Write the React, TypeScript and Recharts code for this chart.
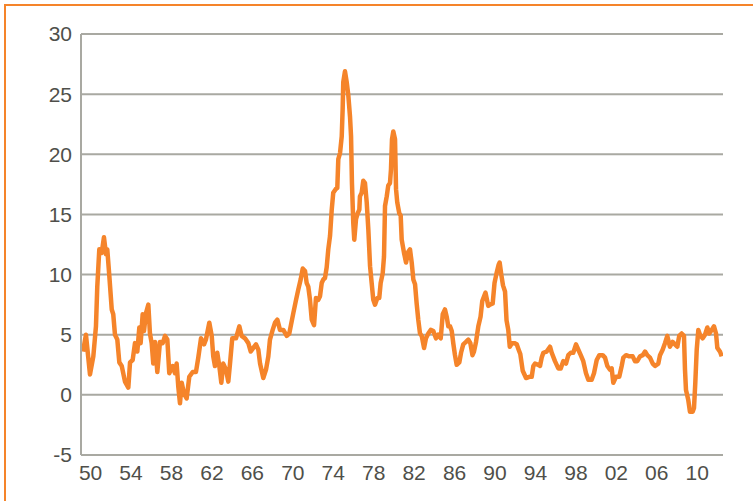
import { LineChart, Line, XAxis, YAxis, CartesianGrid } from "recharts";

// decimal year of each reading
const years = [
  1949.25, 1949.54, 1949.94, 1950.27, 1950.53, 1950.66, 1950.86, 1951.1, 1951.32, 1951.52,
  1951.65, 1951.85, 1952.09, 1952.24, 1952.41, 1952.64, 1952.84, 1953.08, 1953.4, 1953.73,
  1953.9, 1954.16, 1954.39, 1954.62, 1954.82, 1954.95, 1955.15, 1955.28, 1955.48, 1955.71,
  1955.87, 1956.04, 1956.2, 1956.37, 1956.6, 1956.86, 1957.13, 1957.36, 1957.59, 1957.78,
  1958.12, 1958.35, 1958.51, 1958.67, 1958.84, 1959.01, 1959.24, 1959.5, 1959.76, 1960.1,
  1960.42, 1960.65, 1960.92, 1961.22, 1961.41, 1961.74, 1961.98, 1962.13, 1962.3, 1962.53,
  1962.73, 1962.93, 1963.12, 1963.39, 1963.62, 1963.79, 1964.01, 1964.38, 1964.71, 1964.94,
  1965.27, 1965.6, 1965.84, 1966.09, 1966.36, 1966.59, 1966.76, 1967.08, 1967.35, 1967.58,
  1967.74, 1968.01, 1968.24, 1968.47, 1968.73, 1969.06, 1969.4, 1969.65, 1970.05, 1970.32,
  1970.54, 1970.78, 1970.98, 1971.21, 1971.37, 1971.53, 1971.7, 1971.87, 1972.1, 1972.29,
  1972.52, 1972.69, 1972.86, 1973.02, 1973.18, 1973.35, 1973.51, 1973.68, 1973.85, 1974.0,
  1974.24, 1974.4, 1974.5, 1974.67, 1974.84, 1974.93, 1974.99, 1975.16, 1975.33, 1975.49,
  1975.66, 1975.76, 1975.85, 1975.98, 1976.08, 1976.25, 1976.42, 1976.58, 1976.64, 1976.81,
  1976.97, 1977.14, 1977.31, 1977.47, 1977.64, 1977.8, 1977.96, 1978.13, 1978.36, 1978.55,
  1978.69, 1978.89, 1979.02, 1979.12, 1979.29, 1979.44, 1979.61, 1979.71, 1979.81, 1979.94,
  1980.11, 1980.21, 1980.33, 1980.53, 1980.67, 1980.77, 1981.0, 1981.2, 1981.42, 1981.59,
  1981.76, 1981.92, 1982.09, 1982.25, 1982.41, 1982.58, 1982.75, 1982.98, 1983.17, 1983.4,
  1983.64, 1983.9, 1984.16, 1984.39, 1984.63, 1984.83, 1985.05, 1985.22, 1985.38, 1985.55,
  1985.72, 1985.87, 1986.04, 1986.21, 1986.47, 1986.64, 1986.86, 1987.13, 1987.36, 1987.56,
  1987.77, 1987.92, 1988.12, 1988.35, 1988.57, 1988.74, 1989.06, 1989.33, 1989.5, 1989.77,
  1989.95, 1990.15, 1990.35, 1990.46, 1990.62, 1990.79, 1990.99, 1991.14, 1991.31, 1991.46,
  1991.68, 1991.91, 1992.15, 1992.32, 1992.5, 1992.74, 1993.07, 1993.39, 1993.63, 1993.79,
  1993.96, 1994.28, 1994.45, 1994.62, 1994.78, 1995.11, 1995.44, 1995.61, 1995.93, 1996.26,
  1996.5, 1996.75, 1997.02, 1997.25, 1997.49, 1997.74, 1998.01, 1998.24, 1998.48, 1998.73,
  1999.0, 1999.23, 1999.56, 1999.79, 2000.06, 2000.32, 2000.65, 2000.88, 2001.11, 2001.37,
  2001.54, 2001.7, 2001.97, 2002.29, 2002.53, 2002.69, 2002.96, 2003.28, 2003.62, 2003.85,
  2004.07, 2004.34, 2004.61, 2004.84, 2005.06, 2005.33, 2005.6, 2005.83, 2006.15, 2006.32,
  2006.58, 2006.81, 2007.04, 2007.3, 2007.57, 2007.8, 2008.03, 2008.22, 2008.46, 2008.69,
  2008.79, 2008.89, 2009.11, 2009.28, 2009.55, 2009.68, 2009.81, 2009.95, 2010.11, 2010.27,
  2010.54, 2010.77, 2011.0, 2011.19, 2011.43, 2011.66, 2011.86, 2011.99, 2012.25, 2012.42,
];

// annual rate, %
const rates = [
  3.6, 5.0, 1.7, 3.2, 5.7, 9.0, 12.1, 11.8, 13.1, 11.7,
  12.1, 9.9, 7.1, 6.7, 5.0, 4.6, 2.7, 2.4, 1.1, 0.6,
  2.7, 2.9, 4.3, 3.6, 5.6, 4.3, 6.7, 5.3, 6.8, 7.5,
  5.1, 4.3, 2.6, 4.4, 1.9, 4.4, 4.3, 4.9, 4.6, 1.8,
  2.4, 1.8, 2.6, 0.7, -0.7, 1.0, 0.1, -0.3, 1.5, 1.9,
  1.9, 3.1, 4.7, 4.2, 4.6, 6.0, 4.9, 3.2, 2.4, 3.5,
  2.4, 1.0, 2.6, 2.1, 1.1, 2.6, 4.7, 4.7, 5.7, 4.9,
  4.7, 4.3, 3.6, 3.9, 4.2, 3.75, 2.6, 1.4, 2.1, 3.2,
  4.6, 5.4, 6.0, 6.25, 5.4, 5.4, 4.9, 5.1, 6.8, 7.9,
  8.75, 9.6, 10.5, 10.3, 9.3, 9.0, 7.9, 6.25, 5.8, 8.05,
  7.9, 8.2, 9.3, 9.6, 9.7, 10.6, 12.1, 13.2, 15.4, 16.8,
  17.1, 17.2, 19.6, 20.1, 21.5, 23.75, 26.0, 26.9, 26.0, 24.9,
  23.1, 21.5, 17.6, 14.3, 12.9, 14.6, 15.1, 15.4, 16.5, 16.8,
  17.8, 17.6, 16.0, 13.75, 10.7, 9.3, 7.9, 7.5, 8.05, 8.05,
  9.3, 10.1, 11.5, 15.7, 16.5, 17.4, 17.6, 18.75, 21.25, 21.9,
  21.25, 17.1, 16.0, 15.1, 14.9, 12.9, 11.8, 11.0, 11.9, 12.1,
  11.0, 9.6, 9.2, 7.6, 6.25, 5.1, 4.9, 3.9, 4.7, 5.1,
  5.4, 5.3, 4.7, 5.0, 4.7, 6.7, 7.1, 6.5, 5.7, 5.7,
  5.3, 4.3, 3.3, 2.5, 2.7, 3.5, 4.2, 4.4, 4.6, 4.3,
  3.3, 3.6, 4.4, 5.7, 6.5, 7.8, 8.5, 7.4, 7.5, 7.6,
  9.3, 10.1, 10.8, 11.0, 10.0, 9.1, 8.6, 6.2, 5.4, 4.0,
  4.3, 4.3, 4.2, 3.8, 3.4, 2.0, 1.4, 1.5, 1.5, 2.4,
  2.6, 2.5, 2.4, 3.1, 3.5, 3.6, 4.0, 3.5, 2.8, 2.2,
  2.2, 2.8, 2.6, 3.3, 3.5, 3.5, 4.2, 3.75, 3.3, 2.8,
  1.8, 1.25, 1.25, 1.8, 2.9, 3.3, 3.3, 3.1, 2.4, 2.1,
  2.2, 1.0, 1.5, 1.5, 2.4, 3.1, 3.3, 3.2, 3.2, 2.8,
  2.8, 3.2, 3.3, 3.6, 3.3, 3.1, 2.6, 2.4, 2.6, 3.3,
  3.75, 4.3, 4.9, 4.0, 4.4, 4.2, 4.0, 4.9, 5.1, 4.9,
  2.1, 0.4, -0.4, -1.4, -1.4, -1.1, 1.0, 3.75, 5.4, 5.0,
  4.7, 5.0, 5.6, 5.1, 5.4, 5.7, 5.1, 3.9, 3.6, 3.2,
];

const xTicks = [1950, 1954, 1958, 1962, 1966, 1970, 1974, 1978, 1982, 1986, 1990, 1994, 1998, 2002, 2006, 2010];
const yTicks = [-5, 0, 5, 10, 15, 20, 25, 30];

const data = years.map((t, i) => ({ t, v: rates[i] }));

const ORANGE = "#f5842a";
const GRID = "#a9a9a2";
const TEXT = "#4f4f4a";

export default function App() {
  const tickStyle = { fill: TEXT, fontSize: 21, fontFamily: "'Liberation Sans', Arial, sans-serif" };
  return (
    <div style={{ position: "fixed", left: 0, top: 0, width: 753, height: 501, background: "#fff", overflow: "hidden" }}>
      <div
        style={{
          position: "absolute",
          left: 4,
          top: 4,
          width: 760,
          height: 510,
          borderTop: `2.5px solid ${ORANGE}`,
          borderLeft: `2.5px solid ${ORANGE}`,
        }}
      />
      <div style={{ position: "absolute", left: 0, top: 0 }}>
        <LineChart width={753} height={501} data={data} margin={{ top: 34, right: 30, bottom: 0, left: 0 }}>
          <CartesianGrid vertical={false} stroke={GRID} strokeWidth={2} />
          <XAxis
            dataKey="t"
            type="number"
            domain={[1949.05, 2012.55]}
            ticks={xTicks}
            allowDataOverflow
            height={46}
            tickLine={false}
            tickSize={0}
            tickMargin={10}
            axisLine={{ stroke: GRID, strokeWidth: 2 }}
            tick={tickStyle}
            tickFormatter={(y: number) => String(y % 100).padStart(2, "0")}
            interval={0}
          />
          <YAxis
            type="number"
            domain={[-5, 30]}
            ticks={yTicks}
            width={81}
            tickLine={false}
            tickSize={0}
            tickMargin={9}
            axisLine={{ stroke: GRID, strokeWidth: 2 }}
            tick={tickStyle}
            interval={0}
          />
          <Line
            type="linear"
            dataKey="v"
            stroke={ORANGE}
            strokeWidth={4.5}
            strokeLinejoin="round"
            dot={false}
            isAnimationActive={false}
          />
        </LineChart>
      </div>
    </div>
  );
}
